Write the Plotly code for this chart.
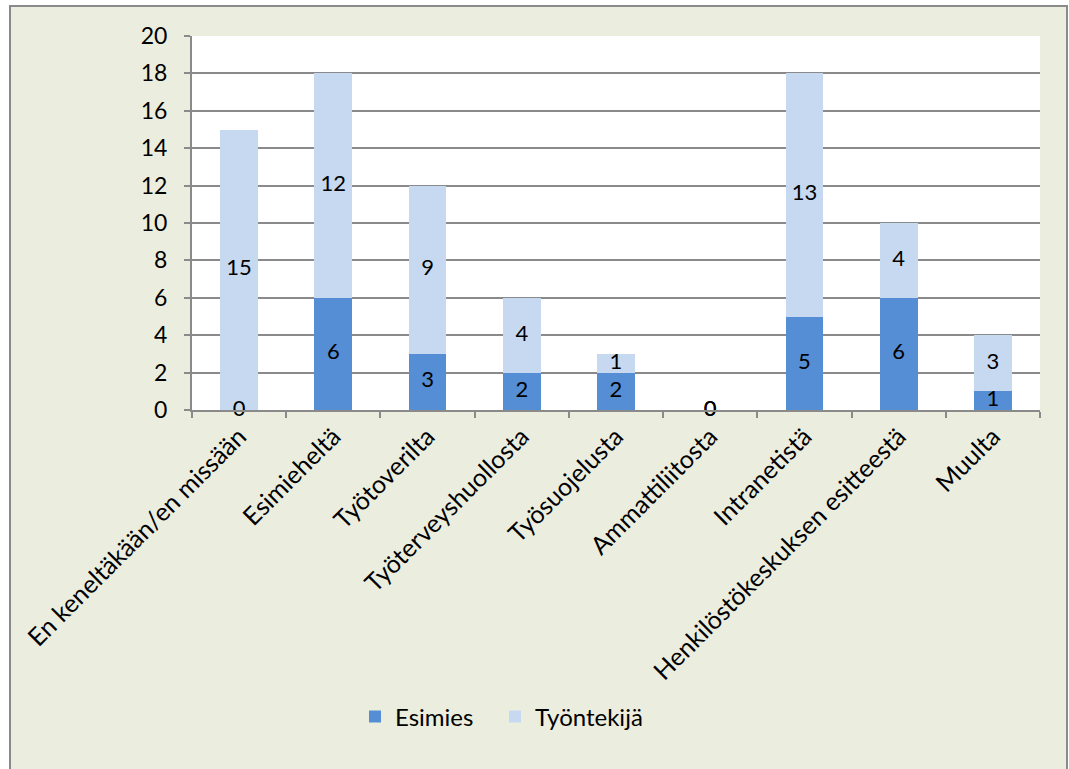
import plotly.graph_objects as go

categories = ["En keneltäkään/en missään", "Esimieheltä", "Työtoverilta",
              "Työterveyshuollosta", "Työsuojelusta", "Ammattiliitosta",
              "Intranetistä", "Henkilöstökeskuksen esitteestä", "Muulta"]
esimies = [0, 6, 3, 2, 2, 0, 5, 6, 1]
tyontekija = [15, 12, 9, 4, 1, 0, 13, 4, 3]
y_ticks = [0, 2, 4, 6, 8, 10, 12, 14, 16, 18, 20]

W, H = 1069, 769
L, R, T, B = 192, 1040, 36, 410
FONT = "Lato"

fig = go.Figure()
fig.add_trace(go.Bar(name="Esimies", x=categories, y=esimies, legend="legend",
                     marker=dict(color="#558ED5", line=dict(width=0))))
fig.add_trace(go.Bar(name="Työntekijä", x=categories, y=tyontekija, legend="legend2",
                     marker=dict(color="#C6D9F1", line=dict(width=0))))

# data labels centred on each segment (zero values sit on the baseline)
lab_x, lab_y, lab_t = [], [], []
for c, e, t in zip(categories, esimies, tyontekija):
    lab_x.append(c); lab_y.append(e / 2); lab_t.append(str(e))
    lab_x.append(c); lab_y.append(e + t / 2); lab_t.append(str(t))
fig.add_trace(go.Scatter(x=lab_x, y=lab_y, text=lab_t, mode="text",
                         textfont=dict(family=FONT, size=22, color="black"),
                         showlegend=False, hoverinfo="skip", cliponaxis=False))

def px_x(p):
    return (p - L) / (R - L)

def px_y(p):
    return (B - p) / (B - T)

shapes = [
    dict(type="rect", xref="paper", yref="paper",
         x0=px_x(10), x1=px_x(1067), y0=px_y(790), y1=px_y(6),
         fillcolor="#EBEEDF", line=dict(color="#8A8A8A", width=2), layer="below"),
    dict(type="rect", xref="paper", yref="paper",
         x0=0, x1=1, y0=0, y1=1,
         fillcolor="white", line=dict(width=0), layer="below"),
]

leg_common = dict(orientation="h", y=px_y(717), xanchor="left", yanchor="middle",
                  font=dict(family=FONT, size=24), bgcolor="rgba(0,0,0,0)",
                  itemsizing="constant")

fig.update_layout(
    width=W, height=H,
    margin=dict(l=L, r=W - R, t=T, b=H - B, pad=0),
    paper_bgcolor="white",
    plot_bgcolor="rgba(0,0,0,0)",
    barmode="stack",
    bargap=0.6,
    font=dict(family=FONT, size=22, color="black"),
    shapes=shapes,
    showlegend=True,
    legend=dict(x=px_x(355), **leg_common),
    legend2=dict(x=px_x(495), **leg_common),
    xaxis=dict(type="category", tickangle=-45, tickson="boundaries",
               ticks="outside", ticklen=6, tickcolor="#8A8A8A", tickwidth=2,
               showline=True, linecolor="#8A8A8A", linewidth=2,
               showgrid=False, tickfont=dict(family=FONT, size=25),
               fixedrange=True),
    yaxis=dict(range=[0, 20], tickvals=y_ticks, ticks="outside", ticklen=6,
               tickcolor="#8A8A8A", tickwidth=2,
               showline=True, linecolor="#8A8A8A", linewidth=2,
               showgrid=True, gridcolor="#8A8A8A", gridwidth=2,
               zeroline=False, tickfont=dict(family=FONT, size=23),
               ticklabelstandoff=12),
)

fig.write_html("out.html")
